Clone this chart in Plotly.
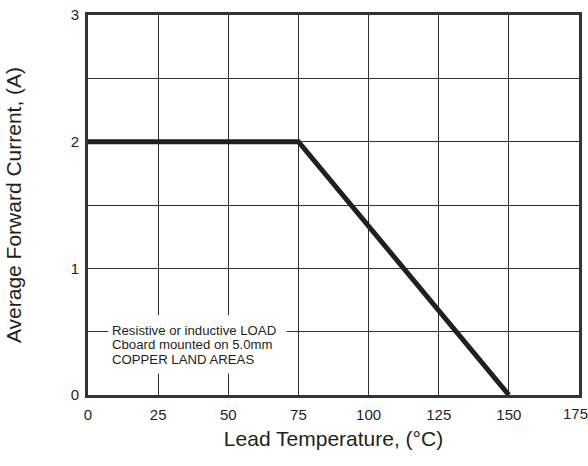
import plotly.graph_objects as go

temps = [0, 75, 150]
current = [2.0, 2.0, 0.0]
x_ticks = [0, 25, 50, 75, 100, 125, 150, 175]
x_labels = ["0", "25", "50", "75", "100", "125", "150", "175"]
y_ticks = [0, 0.5, 1, 1.5, 2, 2.5, 3]
y_labels = ["0", "", "1", "", "2", "", "3"]
note_lines = ["Resistive or inductive LOAD", "Cboard mounted on 5.0mm", "COPPER LAND AREAS"]
note_y = [0.51, 0.395, 0.28]

ink = "#231f20"
font = "Liberation Sans, Arial, sans-serif"

fig = go.Figure()
fig.add_trace(go.Scatter(x=temps, y=current, mode="lines",
                         line=dict(color=ink, width=5), showlegend=False,
                         hoverinfo="skip"))

fig.add_shape(type="rect", xref="x", yref="y", x0=7.2, x1=70.8, y0=0.17, y1=0.63,
              fillcolor="white", line=dict(width=0), layer="between")
for txt, yy in zip(note_lines, note_y):
    fig.add_annotation(x=7.9, y=yy, xref="x", yref="y", xanchor="left", yanchor="middle",
                       text=txt, showarrow=False, align="left",
                       font=dict(family=font, size=13.2, color=ink))

# last x tick label sits at the right window edge; draw it nudged inward
tick_text = x_labels[:-1] + [""]
fig.add_annotation(x=x_ticks[-1] - 1.4, y=-0.048, xref="x", yref="paper",
                   xanchor="center", yanchor="middle", text=x_labels[-1],
                   showarrow=False, font=dict(family=font, size=15, color=ink))

fig.update_layout(
    width=588, height=466,
    margin=dict(l=88, r=9, t=15, b=71),
    paper_bgcolor="white", plot_bgcolor="white",
    font=dict(family=font, color=ink),
    xaxis=dict(range=[0, 175], tickvals=x_ticks, ticktext=tick_text, showgrid=True, automargin=False,
               gridcolor="#2b2f2f", gridwidth=1, zeroline=False,
               showline=True, mirror=True, linecolor="#333333", linewidth=3,
               ticks="", tickfont=dict(size=15, color=ink), ticklabelstandoff=4,
               ticklabeloverflow="allow",
               title=dict(text="Lead Temperature, (°C)", font=dict(size=21, color=ink), standoff=10)),
    yaxis=dict(range=[0, 3], tickvals=y_ticks, ticktext=y_labels, showgrid=True, automargin=False,
               gridcolor="#2b2f2f", gridwidth=1, zeroline=False,
               showline=True, mirror=True, linecolor="#333333", linewidth=3,
               ticks="", tickfont=dict(size=15, color=ink), ticklabelstandoff=3,
               ticklabeloverflow="allow",
               title=dict(text="Average Forward Current, (A)", font=dict(size=21, color=ink), standoff=44)),
)

# remove the page's default body margin so the figure fills the window exactly
fig.write_html("out.html", config={"displayModeBar": False},
               post_script="document.body.style.margin='0';")
